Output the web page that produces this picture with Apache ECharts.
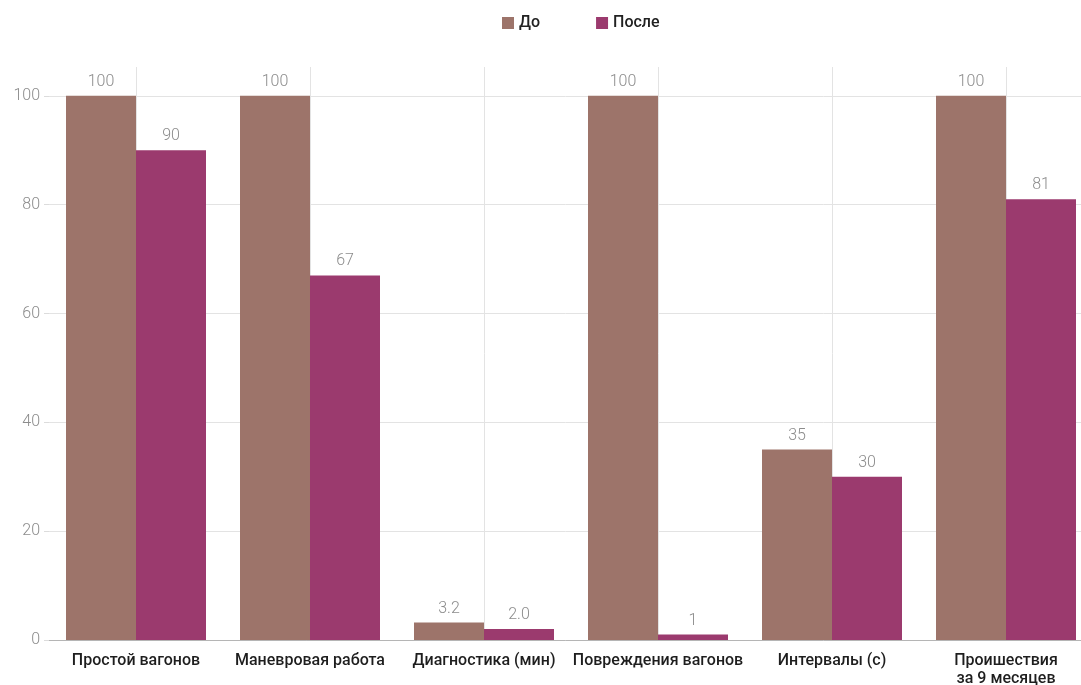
<!DOCTYPE html>
<html>
<head>
<meta charset="utf-8">
<script src="https://cdn.jsdelivr.net/npm/echarts@6/dist/echarts.min.js"></script>
<style>
  html, body { margin: 0; padding: 0; background: #ffffff; }
  #chart { width: 1081px; height: 685px; }
</style>
</head>
<body>
<div id="chart"></div>
<script>
// Показатели до и после внедрения
const categories = ['Простой вагонов', 'Маневровая работа', 'Диагностика (мин)', 'Повреждения вагонов', 'Интервалы (с)', 'Проишествия\nза 9 месяцев'];
const seriesNames = ['До', 'После'];
const beforeValues = [100, 100, 3.2, 100, 35, 100];
const afterValues = [90, 67, 2.0, 1, 30, 81];
const labelDecimals = [0, 0, 1, 0, 0, 0];
const yTicks = [0, 20, 40, 60, 80, 100];

const colors = ['#9d746a', '#9b3a6e'];

const chart = echarts.init(document.getElementById('chart'), null, { renderer: 'canvas' });

const valueLabel = {
  show: true,
  position: 'top',
  distance: 6,
  color: '#8c8c8c',
  fontFamily: 'Roboto',
  fontWeight: 300,
  fontSize: 16,
  formatter: p => p.value.toFixed(labelDecimals[p.dataIndex])
};

chart.setOption({
  animation: false,
  color: colors,
  legend: {
    top: 10,
    left: 497,
    itemWidth: 12,
    itemHeight: 12,
    itemGap: 56,
    icon: 'rect',
    textStyle: { color: '#222', fontFamily: 'Roboto', fontWeight: 500, fontSize: 16 },
    data: seriesNames
  },
  grid: { left: 49, width: 1044, top: 67, bottom: 45, containLabel: false, outerBoundsMode: 'none' },
  xAxis: {
    type: 'category',
    data: categories,
    axisLine: { show: true, lineStyle: { color: '#b5b5b5', width: 1 } },
    axisTick: { show: false },
    axisLabel: {
      color: '#1e1e1e',
      fontFamily: 'Roboto',
      fontWeight: 500,
      fontSize: 16,
      margin: 12,
      lineHeight: 18,
      interval: 0
    },
    splitLine: { show: true, alignWithLabel: true, lineStyle: { color: '#e3e3e3', width: 1 } }
  },
  yAxis: {
    type: 'value',
    min: 0,
    max: 105.3,
    interval: 20,
    axisLine: { show: false },
    axisTick: { show: true, length: 5, lineStyle: { color: '#dcdcdc' } },
    axisLabel: {
      color: '#8c8c8c',
      fontFamily: 'Roboto',
      fontWeight: 300,
      fontSize: 16,
      margin: 9,
      showMaxLabel: false,
      formatter: v => (yTicks.includes(v) ? String(v) : '')
    },
    splitLine: { show: true, showMaxLine: false, lineStyle: { color: '#e3e3e3', width: 1 } }
  },
  series: [
    {
      name: seriesNames[0],
      type: 'bar',
      data: beforeValues,
      barWidth: 70,
      barGap: '0%',
      label: valueLabel
    },
    {
      name: seriesNames[1],
      type: 'bar',
      data: afterValues,
      barWidth: 70,
      barGap: '0%',
      label: valueLabel
    }
  ]
});
</script>
</body>
</html>
